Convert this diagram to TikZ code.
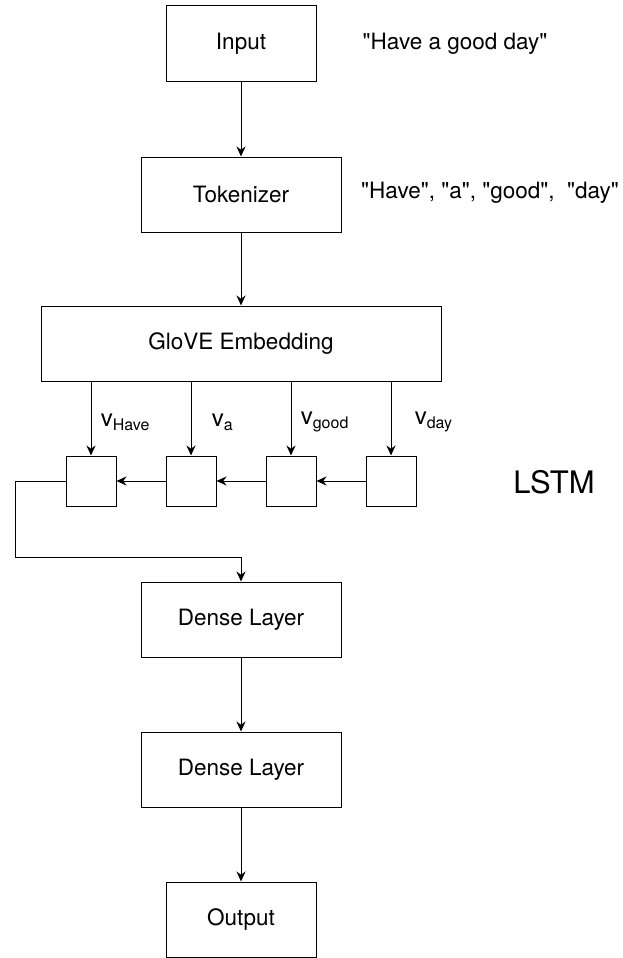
\documentclass[tikz,border=0pt]{standalone}
\usepackage{fontspec}
\setmainfont{TeX Gyre Heros}[Ligatures=TeXOff]
\usetikzlibrary{arrows.meta}
\begin{document}
\begin{tikzpicture}[x=1pt,y=-1pt,
        box/.style={draw,line width=1pt,minimum width=#1,minimum height=75pt,inner sep=0pt,font=\fontsize{22.5}{26}\selectfont},
        cell/.style={draw,line width=1pt,minimum width=50pt,minimum height=50pt,inner sep=0pt},
        flow/.style={line width=1pt,-{Stealth[length=10pt,width=9pt]}},
        lbl/.style={font=\fontsize{22.5}{26}\selectfont},
        vec/.style={pos=0.55,font=\fontsize{24}{26}\selectfont}]
    \useasboundingbox (0,0) rectangle (622,958);
    \node[box=150pt] (inp) at (241,43.5) {Input};
    \node[box=200pt] (tok) at (241,194.5) {Tokenizer};
    \node[box=400pt] (glove) at (241,343.5) {GloVE Embedding};
    \node[cell] (l1) at (91,481) {};
    \node[cell] (l2) at (191,481) {};
    \node[cell] (l3) at (291,481) {};
    \node[cell] (l4) at (391,481) {};
    \node[box=200pt] (dense1) at (241,619.5) {Dense Layer};
    \node[box=200pt] (dense2) at (241,769.5) {Dense Layer};
    \node[box=150pt] (out) at (241,919.5) {Output};
    \node[lbl] (sent) at (455,44) {"Have a good day"};
    \node[lbl] (toks) at (490,193) {"Have", "a", "good",\ \ "day"};
    \node[font=\fontsize{31}{34}\selectfont] (lstm) at (554,482) {LSTM};
    \coordinate (bend) at (15,557);
    \draw[flow] (inp) -- (tok);
    \draw[flow] (tok) -- (glove);
    \draw[flow] (glove.south -| l1.north) -- (l1.north) node[vec,right=6pt]{v\textsubscript{\fontsize{16}{18}\selectfont Have}};
    \draw[flow] (glove.south -| l2.north) -- (l2.north) node[vec,right=17pt]{v\textsubscript{\fontsize{16}{18}\selectfont a}};
    \draw[flow] (glove.south -| l3.north) -- (l3.north) node[vec,right=6pt]{v\textsubscript{\fontsize{16}{18}\selectfont good}};
    \draw[flow] (glove.south -| l4.north) -- (l4.north) node[vec,right=20pt]{v\textsubscript{\fontsize{16}{18}\selectfont day}};
    \draw[flow] (l4) -- (l3);
    \draw[flow] (l3) -- (l2);
    \draw[flow] (l2) -- (l1);
    \draw[flow] (l1.west) -| (bend) -| (dense1.north);
    \draw[flow] (dense1) -- (dense2);
    \draw[flow] (dense2) -- (out);
\end{tikzpicture}
\end{document}
